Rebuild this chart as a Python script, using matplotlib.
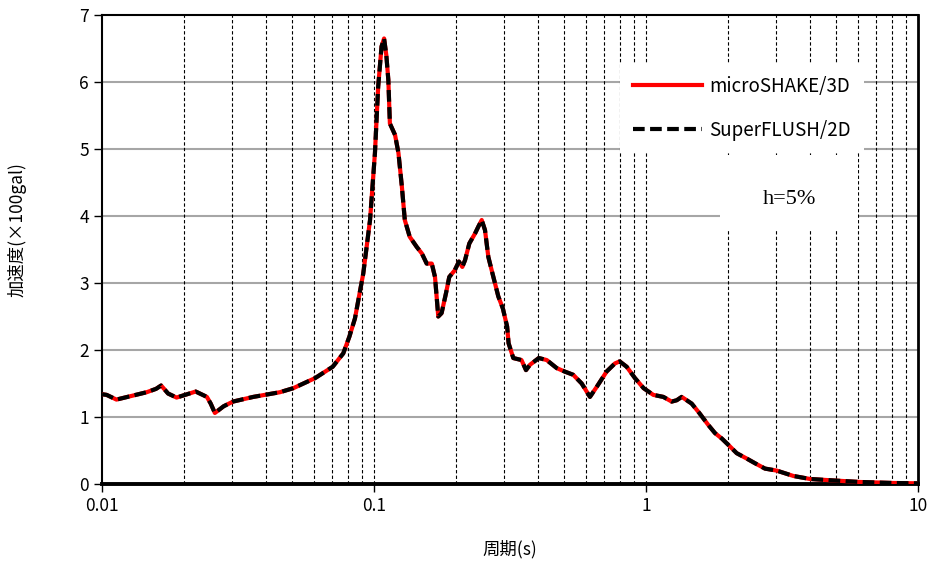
import matplotlib
matplotlib.use("Agg")
import matplotlib.pyplot as plt
from matplotlib.patches import Rectangle
from matplotlib.ticker import LogLocator, FixedLocator, NullFormatter

plt.rcParams['font.family'] = ['Noto Sans CJK JP', 'DejaVu Sans']

# period (s) and acceleration (x100 gal)
period = [0.0100, 0.0104, 0.0113, 0.0130, 0.0146, 0.0158, 0.0165, 0.0175, 0.0188,
          0.0202, 0.0221, 0.0243, 0.0251, 0.0260, 0.0280, 0.0303, 0.0360, 0.0451,
          0.0505, 0.0607, 0.0705, 0.0771, 0.0812, 0.0851, 0.0913, 0.0967, 0.1008,
          0.1036, 0.1066, 0.1089, 0.1110, 0.1129, 0.1144, 0.1195, 0.1230, 0.1266,
          0.1298, 0.1353, 0.1435, 0.1500, 0.1562, 0.1631, 0.1676, 0.1723, 0.1772,
          0.1840, 0.1891, 0.1981, 0.2052, 0.2112, 0.2161, 0.2241, 0.2353, 0.2418,
          0.2489, 0.2559, 0.2632, 0.2708, 0.2864, 0.2977, 0.3086, 0.3125, 0.3252,
          0.3485, 0.3621, 0.3746, 0.4036, 0.4315, 0.4695, 0.5013, 0.5400, 0.5802,
          0.6222, 0.6590, 0.7170, 0.7690, 0.8000, 0.8490, 0.9110, 0.9800, 1.064,
          1.158, 1.243, 1.297, 1.353, 1.472, 1.570, 1.695, 1.793, 1.898, 2.036,
          2.155, 2.345, 2.516, 2.738, 3.023, 3.481, 4.008, 5.02, 6.12, 8.12, 10.0]
ms_acc = [1.34, 1.33, 1.26, 1.32, 1.37, 1.42, 1.47, 1.35, 1.29,
          1.33, 1.38, 1.30, 1.20, 1.06, 1.16, 1.23, 1.30, 1.37,
          1.43, 1.58, 1.75, 1.95, 2.20, 2.47, 3.14, 3.94, 4.94,
          5.93, 6.53, 6.65, 6.40, 6.03, 5.38, 5.21, 4.94, 4.44,
          3.94, 3.69, 3.54, 3.44, 3.29, 3.29, 3.09, 2.50, 2.55,
          2.85, 3.09, 3.19, 3.32, 3.24, 3.34, 3.59, 3.74, 3.84,
          3.94, 3.79, 3.39, 3.19, 2.80, 2.62, 2.35, 2.10, 1.88,
          1.85, 1.70, 1.78, 1.88, 1.85, 1.73, 1.68, 1.63, 1.50,
          1.30, 1.45, 1.68, 1.80, 1.83, 1.75, 1.58, 1.43, 1.33,
          1.30, 1.23, 1.25, 1.30, 1.20, 1.06, 0.88, 0.76, 0.68, 0.56,
          0.46, 0.38, 0.31, 0.23, 0.20, 0.12, 0.075, 0.05, 0.03, 0.015, 0.01]
# the 2D result lies on top of the 3D one
sf_acc = list(ms_acc)

y_ticks = [0, 1, 2, 3, 4, 5, 6, 7]
x_ticks = [0.01, 0.1, 1, 10]
x_labels = ["0.01", "0.1", "1", "10"]

W, H = 934, 564
fig = plt.figure(figsize=(W/100, H/100), dpi=100)
ax = fig.add_axes([102/W, 1-484/H, (918-102)/W, (484-15)/H])

ax.set_xscale("log")
ax.set_xlim(0.01, 10)
ax.set_ylim(0, 7)

# grid: gray solid horizontals, thin dashed black verticals
for yv in y_ticks[1:-1]:
    ax.axhline(yv, color="#a6a6a6", lw=1.5, zorder=1)
for dec in [0.01, 0.1, 1]:
    for k in range(2, 11):
        xv = dec * k
        if xv < 10:
            ax.axvline(xv, color="black", lw=0.8, ls=(0, (3, 2)), zorder=1)

ax.plot(period, ms_acc, color="red", lw=3.0, label="microSHAKE/3D", zorder=3)
ax.plot(period, sf_acc, color="black", lw=3.0, ls=(0, (2.8, 1.3)),
        label="SuperFLUSH/2D", zorder=4)

ax.xaxis.set_major_locator(FixedLocator(x_ticks))
ax.set_xticklabels(x_labels)
ax.xaxis.set_minor_locator(LogLocator(base=10, subs=range(2, 10)))
ax.xaxis.set_minor_formatter(NullFormatter())
ax.tick_params(axis="x", which="minor", length=0)
ax.set_yticks(y_ticks)
ax.tick_params(axis="both", which="major", direction="out", length=6,
               width=1, labelsize=12.5, colors="black")

for side in ["left", "top"]:
    ax.spines[side].set_linewidth(1.5)
ax.spines["right"].set_linewidth(2)
ax.spines["bottom"].set_linewidth(2.8)

fig.text(510/W, 1-549/H, "周期(s)", fontsize=12.5, ha="center", va="center")
fig.text(17/W, 1-230/H, "加速度(×100gal)", fontsize=12.5, ha="center",
         va="center", rotation=90)

# legend on a white block
leg = ax.legend(loc="upper left", bbox_to_anchor=(620/W, 1-63/H),
                bbox_transform=fig.transFigure, frameon=True, fancybox=False,
                framealpha=1, edgecolor="none", fontsize=13.5,
                handlelength=3.7, labelspacing=1.22, borderpad=0.68,
                handletextpad=0.4, borderaxespad=0)
leg.set_zorder(10)

# h=5% note on a white block
fig.patches.append(Rectangle((720/W, 1-230/H), 138/W, 75/H,
                             transform=fig.transFigure, facecolor="white",
                             edgecolor="none", zorder=5))
fig.text(789/W, 1-199/H, "h=5%", ha="center", va="center", fontsize=16,
         family=["Liberation Serif", "DejaVu Serif"], zorder=12)

fig.savefig("out.png", dpi=100)
